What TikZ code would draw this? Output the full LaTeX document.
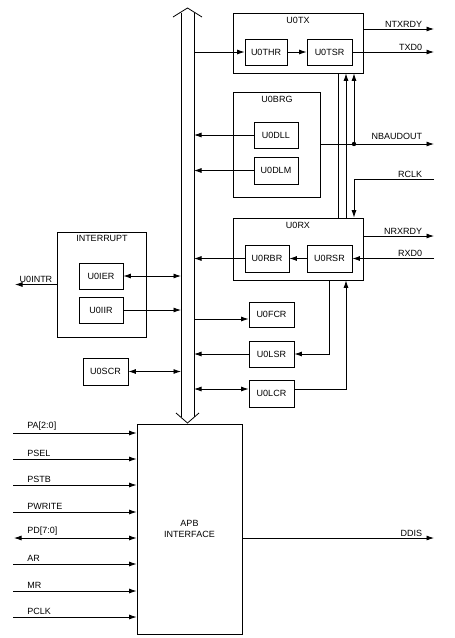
\documentclass[tikz,border=0pt]{standalone}
\usepackage{fontspec}
\setmainfont{Liberation Sans}
\usetikzlibrary{arrows.meta}
\begin{document}
\begin{tikzpicture}[x=1pt,y=-1pt,line width=0.8pt,
  every node/.style={font=\fontsize{9}{10.5}\selectfont},
  box/.style n args={2}{draw,rectangle,minimum width=#1pt,minimum height=#2pt,inner sep=0pt},
  arr/.style={-{Latex[length=7.5pt,width=5pt]}},
  darr/.style={{Latex[length=7.5pt,width=5pt]}-{Latex[length=7.5pt,width=5pt]}},
  rlbl/.style={anchor=south east,inner sep=1.5pt},
  llbl/.style={anchor=south west,inner sep=2pt}]
\useasboundingbox (0,0) rectangle (455,638);
% boxes
\node[box={130}{60}] (TX) at (298,43) {};
\node (TXl) at (298,20) {U0TX};
\node[box={42}{26}] (THR) at (266,52) {U0THR};
\node[box={45}{26}] (TSR) at (329.5,52) {U0TSR};
\node[box={87}{105}] (BRG) at (276.5,144.5) {};
\node (BRGl) at (277,99) {U0BRG};
\node[box={44}{26}] (DLL) at (276,135) {U0DLL};
\node[box={44}{27}] (DLM) at (276,170.5) {U0DLM};
\node[box={130}{62}] (RX) at (298,249) {};
\node (RXl) at (298,225) {U0RX};
\node[box={44}{27}] (RBR) at (267,258.5) {U0RBR};
\node[box={45}{27}] (RSR) at (329.5,258.5) {U0RSR};
\node[box={89}{105}] (INT) at (101.5,284.5) {};
\node (INTl) at (102,238) {INTERRUPT};
\node[box={44}{26}] (IER) at (101,276) {U0IER};
\node[box={44}{26}] (IIR) at (101,310) {U0IIR};
\node[box={45}{27}] (SCR) at (105.5,371.5) {U0SCR};
\node[box={45}{25}] (FCR) at (271.5,314.5) {U0FCR};
\node[box={45}{26}] (LSR) at (271.5,354) {U0LSR};
\node[box={45}{27}] (LCR) at (271.5,393.5) {U0LCR};
\node[box={105}{210},align=center] (APB) at (189.5,529) {APB\\INTERFACE};
% bus
\draw (181,417) -- (181,12.5);
\draw (194,417) -- (194,12.5);
\draw (173,17) -- (187.5,8) -- (202,17);
\draw (176,413) -- (187.5,423) -- (199,413);
% transmitter
\coordinate (bTHR) at (194,52);
\draw[arr] (bTHR) -- (THR.west);
\draw[arr] (THR) -- (TSR);
\coordinate (eNTX) at (434,29);
\draw[arr] (TX.east |- eNTX) -- (eNTX);
\node[rlbl] at (424,29) {NTXRDY};
\coordinate (eTXD) at (434,52);
\draw[arr] (TSR.east) -- (eTXD);
\node[rlbl] at (424,52) {TXD0};
% verticals
\coordinate (vA) at (338,0);
\coordinate (vB) at (346,0);
\coordinate (dot) at (354,144);
\draw (RX.north -| vA) -- (TX.south -| vA);
\draw[arr] (RX.north -| vB) -- (TX.south -| vB);
\draw[arr] (dot) -- (TX.south -| dot);
\coordinate (eNB) at (434,144);
\draw[arr] (BRG.east |- eNB) -- (eNB);
\fill (dot) circle (2.2pt);
\node[rlbl,yshift=3pt] at (424,144) {NBAUDOUT};
\coordinate (eRCLK) at (434,179);
\draw[arr] (eRCLK) -| (RX.north -| dot);
\node[rlbl] at (424,179) {RCLK};
% baud generator
\coordinate (bDLL) at (194,135);
\draw[arr] (DLL.west) -- (bDLL);
\coordinate (bDLM) at (194,170.5);
\draw[arr] (DLM.west) -- (bDLM);
% receiver
\draw[arr] (RSR) -- (RBR);
\coordinate (bRBR) at (194,258.5);
\draw[arr] (RBR.west) -- (bRBR);
\coordinate (eNRX) at (434,236);
\draw[arr] (RX.east |- eNRX) -- (eNRX);
\node[rlbl] at (424,236) {NRXRDY};
\coordinate (eRXD) at (434,258.5);
\draw[arr] (eRXD) -- (RSR.east);
\node[rlbl] at (424,258.5) {RXD0};
% interrupt
\coordinate (bIER) at (181,276);
\draw[darr] (IER.east) -- (bIER);
\coordinate (bIIR) at (181,310);
\draw[arr] (IIR.east) -- (bIIR);
\coordinate (eINT) at (15,284.5);
\draw[arr] (INT.west) -- (eINT);
\node[anchor=south,inner sep=2pt] at (36,284.5) {U0INTR};
\coordinate (bSCR) at (181,371.5);
\draw[darr] (SCR.east) -- (bSCR);
% fcr lsr lcr
\coordinate (bFCR) at (194,319);
\draw[arr] (bFCR) -- (FCR.west |- bFCR);
\coordinate (bLSR) at (194,354);
\draw[arr] (LSR.west) -- (bLSR);
\coordinate (bLCR) at (194,389);
\draw[darr] (bLCR) -- (LCR.west |- bLCR);
\coordinate (vD) at (329,354);
\draw[arr] (RX.south -| vD) |- (LSR.east);
\draw[arr] (LCR.east |- bLCR) -| (RX.south -| vB);
% APB inputs
\foreach \n/\y in {PA[2:0]/433,PSEL/459,PSTB/485,PWRITE/512,AR/564,MR/591,PCLK/617}{
  \coordinate (in) at (13,\y);
  \draw[arr] (in) -- (APB.west |- in);
  \node[llbl] at (25,\y) {\n};
}
\coordinate (iPD) at (14,538);
\draw[darr] (iPD) -- (APB.west |- iPD);
\node[llbl] at (25,538) {PD[7:0]};
\coordinate (eDD) at (434,538);
\draw[arr] (APB.east |- eDD) -- (eDD);
\node[rlbl] at (424,538) {DDIS};
\end{tikzpicture}
\end{document}
